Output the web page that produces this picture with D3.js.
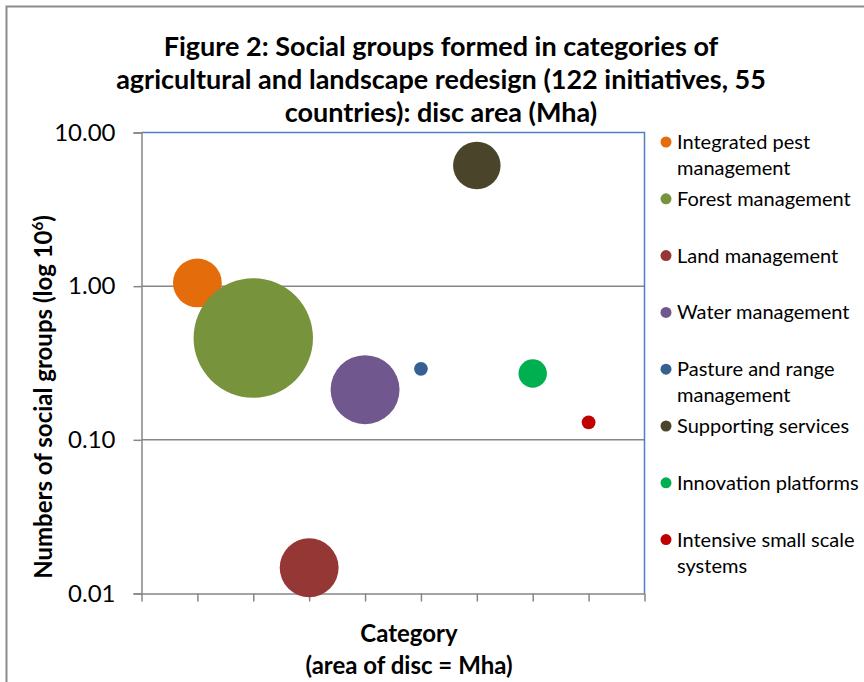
<!DOCTYPE html>
<html lang="en">
  <head>
    <meta charset="UTF-8" />
    <title>Figure 2: Social groups</title>
    <script src="https://d3js.org/d3.v7.min.js"></script>
    <style>
      body { margin: 0; background: #fff; }
      svg { display: block; font-family: Lato, "Open Sans", sans-serif; }
    </style>
  </head>
  <body>
    <div id="chart"></div>
    <script>
      // data
      const categories = [
        'Integrated pest management',
        'Forest management',
        'Land management',
        'Water management',
        'Pasture and range management',
        'Supporting services',
        'Innovation platforms',
        'Intensive small scale systems'
      ];
      const legendLines = [
        ['Integrated pest', 'management'],
        ['Forest management'],
        ['Land management'],
        ['Water management'],
        ['Pasture and range', 'management'],
        ['Supporting services'],
        ['Innovation platforms'],
        ['Intensive small scale', 'systems']
      ];
      const xPos = [1, 2, 3, 4, 5, 6, 7, 8];
      // social groups (millions)
      const groups = [1.05, 0.46, 0.0147, 0.212, 0.29, 6.1, 0.27, 0.13];
      // disc area (Mha)
      const area = [10, 60, 14.6, 20, 0.8, 9.5, 3.4, 0.8];
      const colors = ['#E46C0A', '#77933C', '#953735', '#70588E', '#376092', '#4A452A', '#00B050', '#C00000'];
      const yTicks = [0.01, 0.1, 1, 10];
      const xTicks = [0, 1, 2, 3, 4, 5, 6, 7, 8, 9];

      const W = 864, H = 682;
      const plot = { left: 141.5, top: 132.5, right: 644.5, bottom: 593.5 };

      const svg = d3.select('#chart')
        .append('svg')
        .attr('width', W)
        .attr('height', H);

      // outer chart frame (cut by the picture edges)
      svg.append('path')
        .attr('d', `M6.5,${H + 5}V6.5H${W + 5}`)
        .attr('fill', 'none')
        .attr('stroke', '#8c8c8c')
        .attr('stroke-width', 2);

      const x = d3.scaleLinear().domain([0, 9]).range([plot.left, plot.right]);
      const y = d3.scaleLog().domain([0.01, 10]).range([plot.bottom, plot.top]);
      const r = d3.scaleSqrt().domain([0, d3.max(area)]).range([0, 59.7]);

      // gridlines
      svg.append('g')
        .selectAll('line')
        .data(yTicks.slice(1, -1))
        .join('line')
          .attr('x1', plot.left)
          .attr('x2', plot.right)
          .attr('y1', d => y(d))
          .attr('y2', d => y(d))
          .attr('stroke', '#868686')
          .attr('stroke-width', 1.5);

      // plot border (top / right in blue)
      svg.append('path')
        .attr('d', `M${plot.left},${plot.top}H${plot.right}V${plot.bottom}`)
        .attr('fill', 'none')
        .attr('stroke', '#4F81BD')
        .attr('stroke-width', 1.5);

      // y axis
      const yAxis = svg.append('g')
        .attr('transform', `translate(${plot.left},0)`)
        .call(d3.axisLeft(y).tickValues(yTicks).tickFormat(d3.format('.2f')).tickSize(8).tickPadding(18));
      yAxis.selectAll('.domain, .tick line')
        .attr('stroke', '#868686')
        .attr('stroke-width', 1.5);
      yAxis.selectAll('text')
        .attr('fill', '#000')
        .style('font-size', '24px')
        .style('font-family', 'Lato, sans-serif');

      // x axis (ticks only)
      const xAxis = svg.append('g')
        .attr('transform', `translate(0,${plot.bottom})`)
        .call(d3.axisBottom(x).tickValues(xTicks).tickFormat('').tickSize(8).tickSizeOuter(0));
      xAxis.selectAll('.domain, .tick line')
        .attr('stroke', '#868686')
        .attr('stroke-width', 1.5);

      // bubbles
      svg.append('g')
        .selectAll('circle')
        .data(categories)
        .join('circle')
          .attr('cx', (d, i) => x(xPos[i]))
          .attr('cy', (d, i) => y(groups[i]))
          .attr('r', (d, i) => r(area[i]))
          .attr('fill', (d, i) => colors[i]);

      // title
      const title = [
        'Figure 2: Social groups formed in categories of',
        'agricultural and landscape redesign (122 initiatives, 55',
        'countries): disc area (Mha)'
      ];
      svg.append('text')
        .attr('text-anchor', 'middle')
        .style('font-size', '27px')
        .style('font-weight', 'bold')
        .selectAll('tspan')
        .data(title)
        .join('tspan')
          .attr('x', 441)
          .attr('y', (d, i) => 56 + i * 33)
          .text(d => d);

      // axis titles
      svg.append('text')
        .attr('transform', `translate(52,${397}) rotate(-90)`)
        .attr('text-anchor', 'middle')
        .style('font-size', '24px')
        .style('font-weight', 'bold')
        .html('Numbers of social groups (log 10<tspan dy="-9" font-size="15px">6</tspan><tspan dy="9">)</tspan>');

      svg.append('text')
        .attr('text-anchor', 'middle')
        .style('font-size', '24px')
        .style('font-weight', 'bold')
        .selectAll('tspan')
        .data(['Category', '(area of disc = Mha)'])
        .join('tspan')
          .attr('x', 409)
          .attr('y', (d, i) => 642 + i * 32)
          .text(d => d);

      // legend
      const legend = svg.append('g')
        .attr('transform', 'translate(666,0)');
      const item = legend.selectAll('g')
        .data(categories)
        .join('g')
          .attr('transform', (d, i) => `translate(0,${142 + i * 56.8})`);
      item.append('circle')
        .attr('r', 5.5)
        .attr('fill', (d, i) => colors[i]);
      item.append('text')
        .style('font-size', '20px')
        .attr('fill', '#000')
        .selectAll('tspan')
        .data((d, i) => legendLines[i])
        .join('tspan')
          .attr('x', 11)
          .attr('y', (d, j) => 7 + j * 26)
          .text(d => d);
    </script>
  </body>
</html>
